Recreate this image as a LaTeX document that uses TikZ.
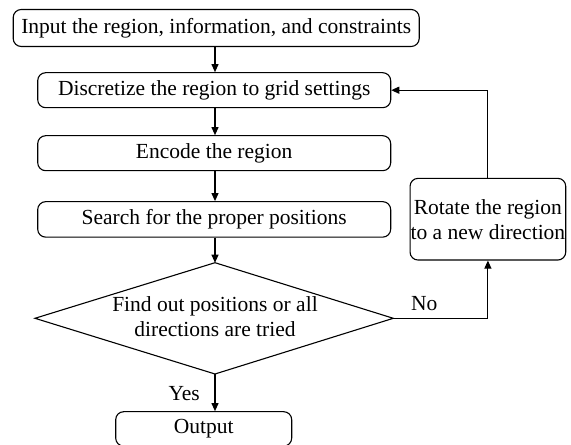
\documentclass[tikz,border=0pt]{standalone}
\usepackage{fontspec}
\setmainfont{Liberation Serif}
\usetikzlibrary{arrows.meta}
\begin{document}
\begin{tikzpicture}[x=1pt,y=1pt,
  box/.style={draw, rounded corners=8pt, line width=1.1pt, inner sep=0pt, align=center,
    font=\fontsize{21.5}{25}\selectfont},
  lbl/.style={font=\fontsize{21.5}{25}\selectfont, inner sep=0pt},
  arr/.style={-{Triangle[length=8pt,width=7pt]}, line width=1.1pt}]
\useasboundingbox (0,0) rectangle (571,445);
\node[box, minimum width=406pt, minimum height=37pt] (b1) at (216.2,417) {Input the region, information, and constraints};
\node[box, minimum width=353pt, minimum height=35pt] (b2) at (214.2,354.8) {Discretize the region to grid settings};
\node[box, minimum width=353pt, minimum height=35pt] (b3) at (214.2,291.8) {Encode the region};
\node[box, minimum width=353pt, minimum height=35.5pt] (b4) at (214.2,225.6) {Search for the proper positions};
\node[box, minimum width=155.7pt, minimum height=81.7pt] (rot) at (487.9,225.8) {Rotate the region\\to a new direction};
\node[box, minimum width=176pt, minimum height=34.4pt] (out) at (203.7,16.1) {Output};
\coordinate (dtop) at (215,182.3);
\coordinate (dbot) at (215,71);
\coordinate (dleft) at (35,126.7);
\coordinate (dright) at (393.3,126.7);
\draw[line width=1.1pt] (dtop) -- (dright) -- (dbot) -- (dleft) -- cycle;
\node[lbl, align=center] (dtext) at (215,128) {Find out positions or all\\directions are tried};
\draw[arr] (b1.south -| dtop) -- (b2.north -| dtop);
\draw[arr] (b2.south -| dtop) -- (b3.north -| dtop);
\draw[arr] (b3.south -| dtop) -- (b4.north -| dtop);
\draw[arr] (b4.south -| dtop) -- (dtop);
\draw[arr] (dbot) -- (out.north -| dbot);
\draw[arr] (dright) -| (rot.south);
\draw[arr] (rot.north) |- (b2.east);
\node[lbl, anchor=base west] (no) at (411,134.3) {No};
\node[lbl, anchor=base east] (yes) at (200,45) {Yes};
\end{tikzpicture}
\end{document}
